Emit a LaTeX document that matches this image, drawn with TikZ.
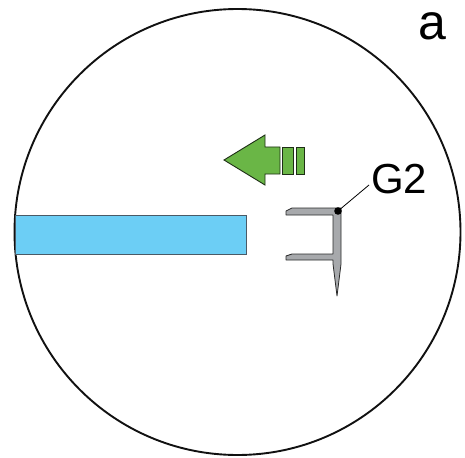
\documentclass[tikz,border=0pt]{standalone}
\usepackage{fontspec}
\setmainfont{Liberation Sans}
\usetikzlibrary{positioning}
\definecolor{lensline}{HTML}{111111}
\definecolor{bbblue}{HTML}{6CCEF5}
\definecolor{bbedge}{HTML}{4A5A66}
\definecolor{arrgreen}{HTML}{6AB646}
\definecolor{arredge}{HTML}{1E2E16}
\definecolor{hookgrey}{HTML}{A7A9AC}
\definecolor{hookedge}{HTML}{2A2A2A}
\begin{document}
\begin{tikzpicture}[x=1pt,y=-1pt]
\useasboundingbox (0,0) rectangle (465,457);
% field of view
\draw[lensline,line width=1.9pt] (237.5,232) circle (223);
% blue bar
\draw[fill=bbblue,draw=bbedge,line width=0.9pt] (15,215) rectangle (246,254);
% green arrow
\draw[fill=arrgreen,draw=arredge,line width=0.9pt]
  (224,160) -- (265,135) -- (265,147) -- (280,147) -- (280,174)
  -- (265,174) -- (265,185) -- cycle;
\draw[fill=arrgreen,draw=arredge,line width=0.9pt] (282,147) rectangle (293,174);
\draw[fill=arrgreen,draw=arredge,line width=0.9pt] (296,147) rectangle (304,174);
% hook G2
\draw[fill=hookgrey,draw=hookedge,line width=0.8pt,line join=round]
  (292,208) -- (341,208) -- (341,264) -- (337,296) -- (333,264)
  -- (333,260) -- (286,260) -- (286,256) -- (292,254) -- (333,254)
  -- (333,215) -- (286,215) -- (286,211) -- cycle;
\coordinate (g2dot) at (338,211);
\coordinate (g2end) at (369,185);
\fill (g2dot) circle (3.8);
\node[anchor=west,inner sep=0pt,font=\fontsize{42}{42}\selectfont] (g2) at (371,179) {G2};
\draw[line width=0.8pt] (g2dot) -- (g2end);
% panel letter
\node[inner sep=0pt,font=\fontsize{50}{50}\selectfont] (panel) at (432,26) {a};
\end{tikzpicture}
\end{document}
